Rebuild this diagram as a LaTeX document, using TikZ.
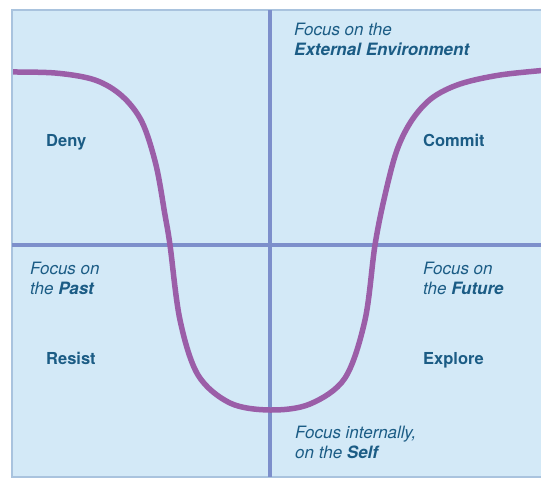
\documentclass[tikz,border=0pt]{standalone}
\usepackage{fontspec}
\setmainfont{TeX Gyre Heros}
\definecolor{panel}{HTML}{D3E9F7}
\definecolor{panelrim}{HTML}{A9C3DE}
\definecolor{axis}{HTML}{7D8FCB}
\definecolor{curve}{HTML}{9B5EA8}
\definecolor{label}{HTML}{1B5C85}
\begin{document}
\begin{tikzpicture}[x=1pt,y=-1pt,
  lbl/.style={anchor=base west,text=label,inner sep=0pt,align=left,
    font=\fontsize{17}{20}\selectfont\itshape},
  stage/.style={anchor=base west,text=label,inner sep=0pt,
    font=\fontsize{16.5}{20}\selectfont\bfseries}]
  % page and panel
  \useasboundingbox (0,0) rectangle (541,479);
  \fill[white] (0,0) rectangle (541,479);
  \draw[panelrim,fill=panel,line width=2pt] (12,10) rectangle (545,477);
  % axes
  \coordinate (top) at (270,10);
  \coordinate (bottom) at (270,477);
  \coordinate (left) at (12,245);
  \coordinate (right) at (541,245);
  \draw[axis,line width=3.5pt] (top) -- (bottom);
  \draw[axis,line width=3.5pt] (left) -- (right);
  % transition curve, kept inside the panel
  \begin{scope}
    \clip (13,10) rectangle (541,477);
    \draw[curve,line width=5.5pt] plot[smooth,tension=0.55] coordinates {
      (4,72) (55,73) (95,80) (122,96) (142,122) (156,165) (165,215) (170,245)
      (180,320) (198,375) (230,403) (270,410) (310,404) (345,378) (365,320)
      (375,245) (385,195) (397,150) (412,120) (432,98) (460,84) (500,75) (548,70)};
  \end{scope}
  % labels (anchored at the baseline of the last line)
  \node[lbl] (ext) at (294,55) {Focus on the\\\textbf{External Environment}};
  \node[lbl] (past) at (30,294) {Focus on\\the \textbf{Past}};
  \node[lbl] (fut) at (423,294) {Focus on\\the \textbf{Future}};
  \node[lbl] (self) at (295,458) {Focus internally,\\on the \textbf{Self}};
  \node[stage] (deny) at (46,146) {Deny};
  \node[stage] (commit) at (423,146) {Commit};
  \node[stage] (resist) at (46,364) {Resist};
  \node[stage] (explore) at (423,364) {Explore};
\end{tikzpicture}
\end{document}
